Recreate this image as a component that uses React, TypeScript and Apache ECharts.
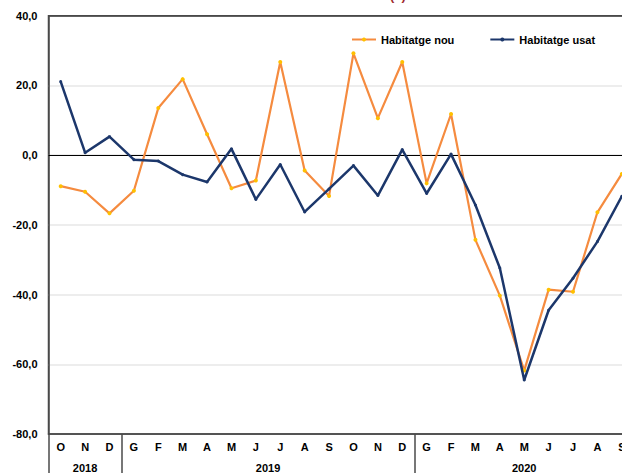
import React, { useEffect, useRef } from "react";
import * as echarts from "echarts";

const months = ["O", "N", "D", "G", "F", "M", "A", "M", "J", "J", "A", "S", "O", "N", "D", "G", "F", "M", "A", "M", "J", "J", "A", "S"];
const years = ["2018", "2019", "2020"];
const yearSpans = [3, 12, 9];
const habitatgeNou = [-8.9, -10.5, -16.7, -10.2, 13.5, 21.8, 6.0, -9.5, -7.3, 26.7, -4.4, -11.7, 29.2, 10.6, 26.7, -8.1, 11.8, -24.3, -40.3, -61.8, -38.6, -39.2, -16.4, -5.4];
const habitatgeUsat = [21.1, 0.7, 5.3, -1.3, -1.7, -5.6, -7.7, 1.8, -12.7, -2.7, -16.3, -9.7, -3.0, -11.6, 1.6, -11.0, 0.3, -14.3, -32.4, -64.5, -44.5, -35.3, -24.8, -11.8];
const seriesNames = ["Habitatge nou", "Habitatge usat"];
const titleText = "(1)";
const yMin = -80;
const yMax = 40;

const FONT = "'Liberation Sans', Arial, sans-serif";
const FRAME = "#4a4a4a";

export default function App() {
  const ref = useRef<HTMLDivElement>(null);
  useEffect(() => {
    if (!ref.current) return;
    const chart = echarts.init(ref.current, null, { renderer: "svg" });
    const bounds: number[] = [-0.5];
    const centers: number[] = [];
    let acc = -0.5;
    yearSpans.forEach((s) => {
      centers.push(acc + s / 2);
      acc += s;
      bounds.push(acc);
    });
    chart.setOption({
      animation: false,
      backgroundColor: "#ffffff",
      textStyle: { fontFamily: FONT },
      graphic: [
        {
          type: "text",
          left: 390,
          top: -11,
          style: { text: titleText, fill: "#A0282D", font: `bold 13px ${FONT}` },
        },
      ],
      legend: {
        left: 346,
        top: 29,
        itemWidth: 24,
        itemHeight: 5,
        itemGap: 35,
        textStyle: { color: "#000", fontWeight: "bold", fontSize: 11, fontFamily: FONT },
        data: seriesNames,
      },
      grid: {
        left: 48.5,
        right: 0,
        top: 15.7,
        bottom: 37.5,
        show: true,
        borderColor: FRAME,
        borderWidth: 1.5,
        backgroundColor: "rgba(255,255,255,0)",
      },
      xAxis: [
        {
          type: "category",
          data: months,
          boundaryGap: true,
          position: "bottom",
          axisLine: { show: true, onZero: false, lineStyle: { color: FRAME, width: 1.5 } },
          axisTick: { show: false },
          axisLabel: { color: "#000", fontWeight: "bold", fontSize: 11, margin: 7, interval: 0, fontFamily: FONT },
          splitLine: { show: false },
        },
        {
          type: "value",
          min: -0.5,
          max: 23.5,
          position: "bottom",
          axisLine: { show: false, onZero: false },
          axisTick: {
            show: true,
            customValues: bounds,
            length: 40,
            lineStyle: { color: FRAME, width: 1.5 },
          },
          axisLabel: {
            show: true,
            customValues: centers,
            margin: 28,
            color: "#000",
            fontWeight: "bold",
            fontSize: 11,
            fontFamily: FONT,
            formatter: (v: number) => {
              const i = centers.findIndex((c) => Math.abs(c - v) < 1e-6);
              return i >= 0 ? years[i] : "";
            },
          },
          splitLine: { show: false },
        },
      ],
      yAxis: {
        type: "value",
        min: yMin,
        max: yMax,
        interval: 20,
        axisLine: { show: true, onZero: false, lineStyle: { color: FRAME, width: 1.5 } },
        axisTick: { show: false },
        axisLabel: {
          color: "#000",
          fontWeight: "bold",
          fontSize: 11,
          margin: 11,
          fontFamily: FONT,
          formatter: (v: number) => v.toFixed(1).replace(".", ","),
        },
        splitLine: {
          show: true,
          showMinLine: false,
          showMaxLine: false,
          lineStyle: { color: "#D0D0D0", width: 1.5, type: [1, 1] },
        },
      },
      series: [
        {
          name: seriesNames[0],
          type: "line",
          data: habitatgeNou,
          symbol: "circle",
          symbolSize: 4,
          lineStyle: { color: "#F58B3F", width: 2.2 },
          itemStyle: { color: "#FFC000" },
          z: 3,
          markLine: {
            silent: true,
            symbol: "none",
            label: { show: false },
            lineStyle: { color: "#000", width: 1.2, type: "solid" },
            data: [{ yAxis: 0 }],
            z: 1,
          },
        },
        {
          name: seriesNames[1],
          type: "line",
          data: habitatgeUsat,
          symbol: "circle",
          symbolSize: 3,
          clip: false,
          lineStyle: { color: "#1C376B", width: 2.5 },
          itemStyle: { color: "#1C376B" },
          z: 4,
          markLine: {
            silent: true,
            symbol: "none",
            label: { show: false },
            lineStyle: { color: FRAME, width: 1.5, type: "solid" },
            data: [{ yAxis: yMax }],
            z: 1,
          },
        },
      ],
    });
    return () => chart.dispose();
  }, []);
  return (
    <div style={{ position: "absolute", left: 0, top: 0, width: 622, height: 473, overflow: "hidden" }}>
      <div ref={ref} style={{ width: 634, height: 473 }} />
    </div>
  );
}
